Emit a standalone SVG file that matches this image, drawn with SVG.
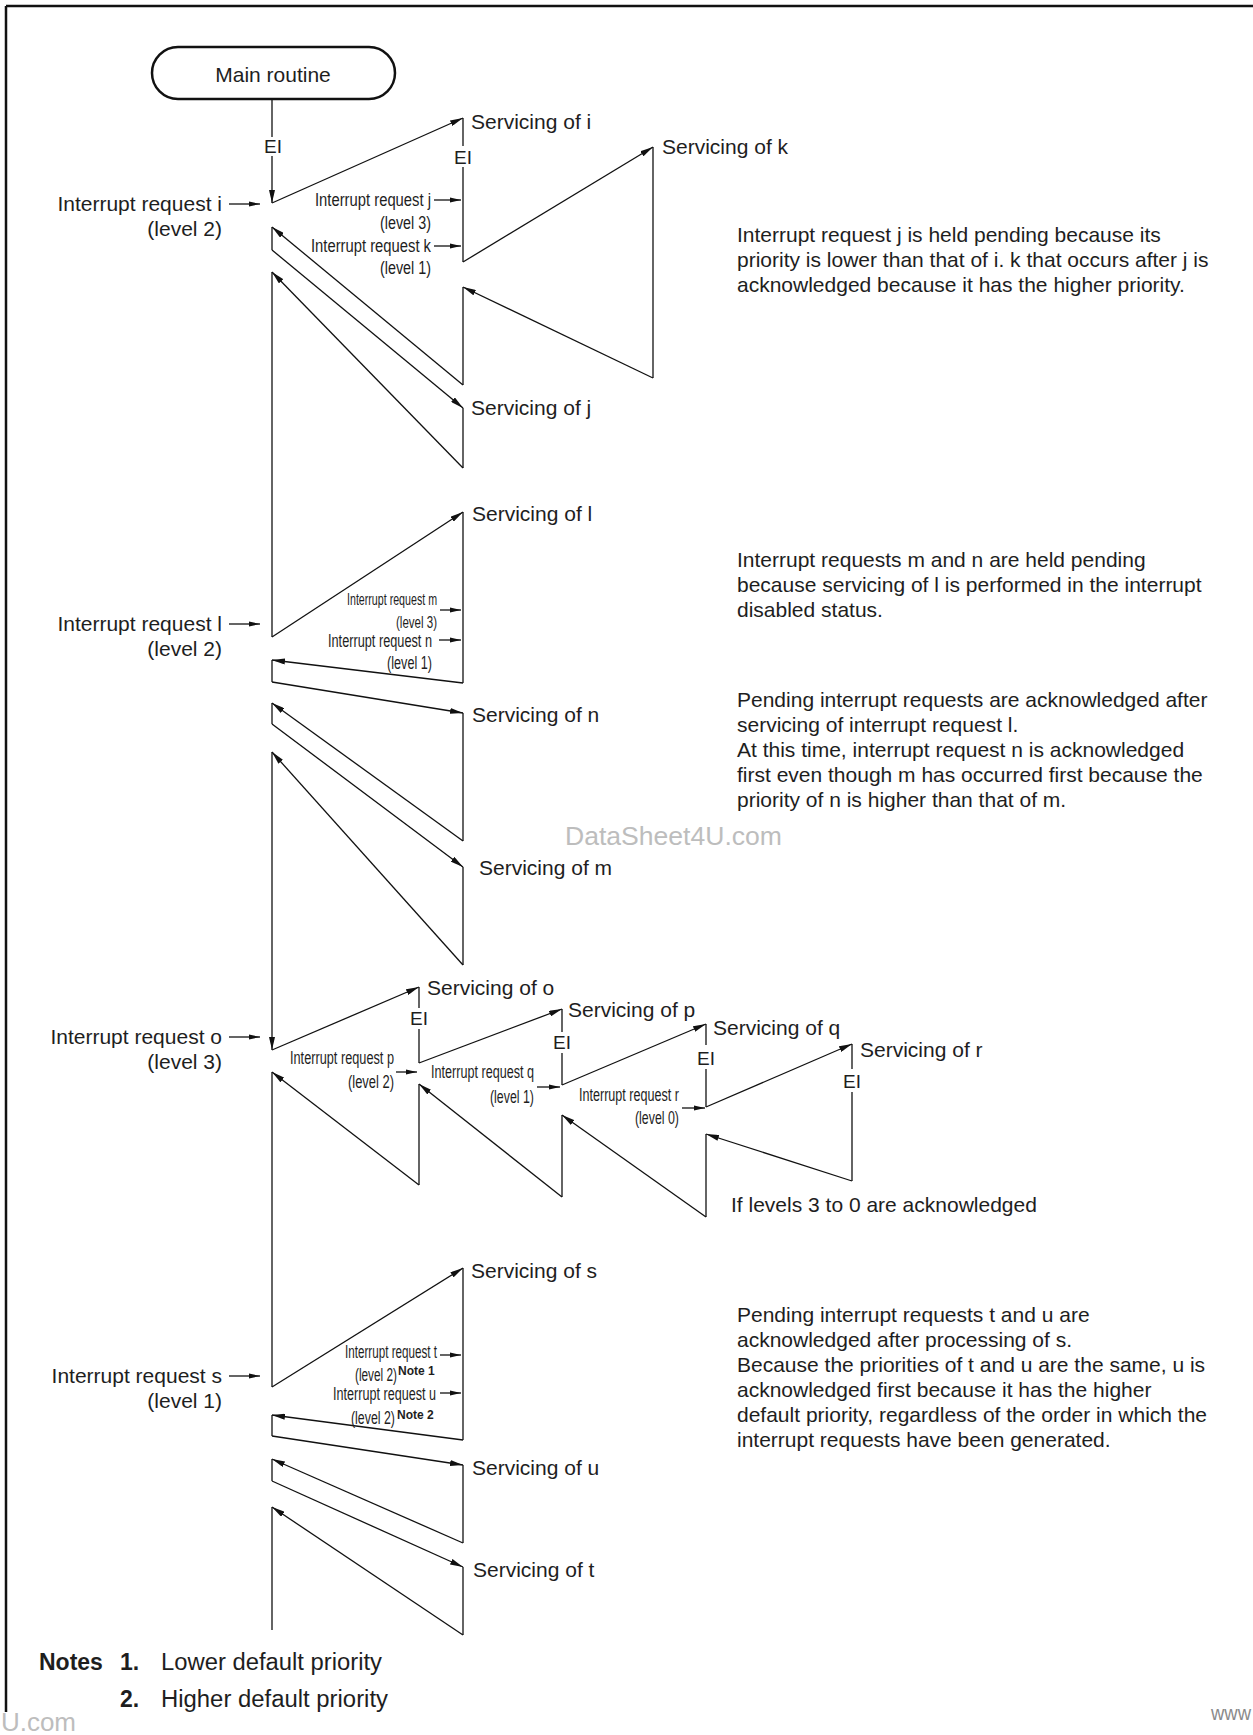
<svg xmlns="http://www.w3.org/2000/svg" width="1253" height="1735" viewBox="0 0 1253 1735">
<style>
text{font-family:"Liberation Sans",Arial,sans-serif;fill:#1e1e1e}
.t{font-size:21px}
.ei{font-size:19px;text-anchor:middle}
.rq{font-size:18px;text-anchor:end}
.rs{font-size:16px;text-anchor:end}
.nt{font-size:12px;font-weight:bold}
.bn{font-size:23px}
.b{font-weight:bold}
.end{text-anchor:end}
.wm{fill:#bdbdbd;font-size:26px}
#connectors line{stroke:#111;stroke-width:1.3;fill:none}
#connectors line.a{marker-end:url(#ah)}
#connectors line.h{marker-end:url(#ahs)}
.frame{stroke:#111;stroke-width:2.5;fill:none}
</style>
<defs>
<marker id="ah" markerUnits="userSpaceOnUse" markerWidth="14" markerHeight="6" refX="13" refY="3" orient="auto"><path d="M0,0 L13,3 L0,6 Z" fill="#111"/></marker>
<marker id="ahs" markerUnits="userSpaceOnUse" markerWidth="11" markerHeight="6" refX="11" refY="3" orient="auto"><path d="M0,0.5 L11,3 L0,5.5 Z" fill="#111"/></marker>
</defs>
<rect width="1253" height="1735" fill="#fff"/>
<g id="frame">
<line class="frame" x1="6" y1="6" x2="1253" y2="6"/>
<line class="frame" x1="6" y1="6" x2="6" y2="1712"/>
</g>
<g id="main-routine">
<rect x="152" y="47" width="243" height="52" rx="26" ry="26" fill="#fff" stroke="#111" stroke-width="2.5"/>
<text class="t" x="273" y="82" text-anchor="middle">Main routine</text>
</g>
<g id="connectors">
<line x1="272" y1="99" x2="272" y2="137"/>
<line class="a" x1="272" y1="156" x2="272" y2="203"/>
<line class="a" x1="272" y1="203" x2="463" y2="118"/>
<line x1="463" y1="118" x2="463" y2="146"/>
<line x1="463" y1="167" x2="463" y2="262"/>
<line class="a" x1="463" y1="262" x2="653" y2="147"/>
<line x1="653" y1="147" x2="653" y2="378"/>
<line class="a" x1="653" y1="378" x2="463" y2="287"/>
<line x1="463" y1="287" x2="463" y2="385"/>
<line class="a" x1="463" y1="385" x2="272" y2="227"/>
<line x1="272" y1="227" x2="272" y2="250"/>
<line class="a" x1="272" y1="250" x2="463" y2="408"/>
<line x1="463" y1="408" x2="463" y2="468"/>
<line class="a" x1="463" y1="468" x2="272" y2="272"/>
<line x1="272" y1="272" x2="272" y2="637"/>
<line class="a" x1="272" y1="637" x2="463" y2="512"/>
<line x1="463" y1="512" x2="463" y2="683"/>
<line class="a" x1="463" y1="683" x2="272" y2="660"/>
<line x1="272" y1="660" x2="272" y2="682"/>
<line class="a" x1="272" y1="682" x2="463" y2="713"/>
<line x1="463" y1="713" x2="463" y2="841"/>
<line class="a" x1="463" y1="841" x2="272" y2="703"/>
<line x1="272" y1="703" x2="272" y2="724"/>
<line class="a" x1="272" y1="724" x2="463" y2="867"/>
<line x1="463" y1="867" x2="463" y2="965"/>
<line class="a" x1="463" y1="965" x2="272" y2="752"/>
<line class="a" x1="272" y1="752" x2="272" y2="1050"/>
<line class="a" x1="272" y1="1050" x2="419" y2="987"/>
<line x1="419" y1="987" x2="419" y2="1008"/>
<line x1="419" y1="1029" x2="419" y2="1063"/>
<line class="a" x1="419" y1="1063" x2="562" y2="1009"/>
<line x1="562" y1="1009" x2="562" y2="1032"/>
<line x1="562" y1="1053" x2="562" y2="1085"/>
<line class="a" x1="562" y1="1085" x2="706" y2="1024"/>
<line x1="706" y1="1024" x2="706" y2="1045"/>
<line x1="706" y1="1069" x2="706" y2="1107"/>
<line class="a" x1="706" y1="1107" x2="852" y2="1044"/>
<line x1="852" y1="1044" x2="852" y2="1069"/>
<line x1="852" y1="1092" x2="852" y2="1181"/>
<line class="a" x1="852" y1="1181" x2="706" y2="1134"/>
<line x1="706" y1="1134" x2="706" y2="1217"/>
<line class="a" x1="706" y1="1217" x2="562" y2="1115"/>
<line x1="562" y1="1115" x2="562" y2="1197"/>
<line class="a" x1="562" y1="1197" x2="419" y2="1084"/>
<line x1="419" y1="1084" x2="419" y2="1185"/>
<line class="a" x1="419" y1="1185" x2="272" y2="1072"/>
<line x1="272" y1="1072" x2="272" y2="1387"/>
<line class="a" x1="272" y1="1387" x2="463" y2="1268"/>
<line x1="463" y1="1268" x2="463" y2="1440"/>
<line class="a" x1="463" y1="1440" x2="272" y2="1415"/>
<line x1="272" y1="1415" x2="272" y2="1436"/>
<line class="a" x1="272" y1="1436" x2="463" y2="1465"/>
<line x1="463" y1="1465" x2="463" y2="1543"/>
<line class="a" x1="463" y1="1543" x2="272" y2="1459"/>
<line x1="272" y1="1459" x2="272" y2="1481"/>
<line class="a" x1="272" y1="1481" x2="463" y2="1567"/>
<line x1="463" y1="1567" x2="463" y2="1635"/>
<line class="a" x1="463" y1="1635" x2="272" y2="1507"/>
<line x1="272" y1="1507" x2="272" y2="1630"/>
<line class="h" x1="229" y1="204" x2="260" y2="204"/>
<line class="h" x1="229" y1="624" x2="260" y2="624"/>
<line class="h" x1="229" y1="1037" x2="260" y2="1037"/>
<line class="h" x1="229" y1="1376" x2="260" y2="1376"/>
<line class="h" x1="434" y1="200" x2="461" y2="200"/>
<line class="h" x1="434" y1="246" x2="461" y2="246"/>
<line class="h" x1="440" y1="610" x2="461" y2="610"/>
<line class="h" x1="439" y1="640" x2="461" y2="640"/>
<line class="h" x1="396" y1="1072" x2="417" y2="1072"/>
<line class="h" x1="537" y1="1087" x2="560" y2="1087"/>
<line class="h" x1="682" y1="1108" x2="705" y2="1108"/>
<line class="h" x1="440" y1="1355" x2="461" y2="1355"/>
<line class="h" x1="440" y1="1393" x2="461" y2="1393"/>
</g>
<g id="ei-labels">
<text class="ei" x="273" y="153">EI</text>
<text class="ei" x="463" y="164">EI</text>
<text class="ei" x="419" y="1025">EI</text>
<text class="ei" x="562" y="1049">EI</text>
<text class="ei" x="706" y="1065">EI</text>
<text class="ei" x="852" y="1088">EI</text>
</g>
<g id="request-i"><text class="t end" x="222" y="211">Interrupt request i</text><text class="t end" x="222" y="236">(level 2)</text></g>
<g id="request-l"><text class="t end" x="222" y="631">Interrupt request l</text><text class="t end" x="222" y="656">(level 2)</text></g>
<g id="request-o"><text class="t end" x="222" y="1044">Interrupt request o</text><text class="t end" x="222" y="1069">(level 3)</text></g>
<g id="request-s"><text class="t end" x="222" y="1383">Interrupt request s</text><text class="t end" x="222" y="1408">(level 1)</text></g>
<g id="request-j"><text class="rq" x="431" y="206" textLength="116" lengthAdjust="spacingAndGlyphs">Interrupt request j</text><text class="rq" x="431" y="229" textLength="51" lengthAdjust="spacingAndGlyphs">(level 3)</text></g>
<g id="request-k"><text class="rq" x="431" y="252" textLength="120" lengthAdjust="spacingAndGlyphs">Interrupt request k</text><text class="rq" x="431" y="274" textLength="51" lengthAdjust="spacingAndGlyphs">(level 1)</text></g>
<g id="request-m"><text class="rs" x="437" y="605" textLength="90" lengthAdjust="spacingAndGlyphs">Interrupt request m</text><text class="rs" x="437" y="628" textLength="41" lengthAdjust="spacingAndGlyphs">(level 3)</text></g>
<g id="request-n"><text class="rs" x="432" y="647" style="font-size:17.5px" textLength="104" lengthAdjust="spacingAndGlyphs">Interrupt request n</text><text class="rs" x="432" y="669" style="font-size:17.5px" textLength="45" lengthAdjust="spacingAndGlyphs">(level 1)</text></g>
<g id="request-p"><text class="rq" x="394" y="1064" textLength="104" lengthAdjust="spacingAndGlyphs">Interrupt request p</text><text class="rq" x="394" y="1088" textLength="46" lengthAdjust="spacingAndGlyphs">(level 2)</text></g>
<g id="request-q"><text class="rq" x="534" y="1078" textLength="103" lengthAdjust="spacingAndGlyphs">Interrupt request q</text><text class="rq" x="534" y="1103" textLength="44" lengthAdjust="spacingAndGlyphs">(level 1)</text></g>
<g id="request-r"><text class="rq" x="679" y="1101" textLength="100" lengthAdjust="spacingAndGlyphs">Interrupt request r</text><text class="rq" x="679" y="1124" textLength="44" lengthAdjust="spacingAndGlyphs">(level 0)</text></g>
<g id="request-t"><text class="rq" x="437" y="1358" textLength="92" lengthAdjust="spacingAndGlyphs">Interrupt request t</text><text class="rq" x="397" y="1381" textLength="42" lengthAdjust="spacingAndGlyphs">(level 2)</text><text class="nt" x="398" y="1375">Note 1</text></g>
<g id="request-u"><text class="rq" x="436" y="1400" textLength="103" lengthAdjust="spacingAndGlyphs">Interrupt request u</text><text class="rq" x="395" y="1424" textLength="44" lengthAdjust="spacingAndGlyphs">(level 2)</text><text class="nt" x="397" y="1419">Note 2</text></g>
<g id="servicing-i"><text class="t" x="471" y="129">Servicing of i</text></g>
<g id="servicing-k"><text class="t" x="662" y="154">Servicing of k</text></g>
<g id="servicing-j"><text class="t" x="471" y="415">Servicing of j</text></g>
<g id="servicing-l"><text class="t" x="472" y="521">Servicing of l</text></g>
<g id="servicing-n"><text class="t" x="472" y="722">Servicing of n</text></g>
<g id="servicing-m"><text class="t" x="479" y="875">Servicing of m</text></g>
<g id="servicing-o"><text class="t" x="427" y="995">Servicing of o</text></g>
<g id="servicing-p"><text class="t" x="568" y="1017">Servicing of p</text></g>
<g id="servicing-q"><text class="t" x="713" y="1035">Servicing of q</text></g>
<g id="servicing-r"><text class="t" x="860" y="1057">Servicing of r</text></g>
<g id="servicing-s"><text class="t" x="471" y="1278">Servicing of s</text></g>
<g id="servicing-u"><text class="t" x="472" y="1475">Servicing of u</text></g>
<g id="servicing-t"><text class="t" x="473" y="1577">Servicing of t</text></g>
<g id="acknowledged-note"><text class="t" x="731" y="1212">If levels 3 to 0 are acknowledged</text></g>
<g id="explain-1">
<text class="t" x="737" y="242">Interrupt request j is held pending because its</text>
<text class="t" x="737" y="267">priority is lower than that of i. k that occurs after j is</text>
<text class="t" x="737" y="292">acknowledged because it has the higher priority.</text>
</g>
<g id="explain-2">
<text class="t" x="737" y="567">Interrupt requests m and n are held pending</text>
<text class="t" x="737" y="592">because servicing of l is performed in the interrupt</text>
<text class="t" x="737" y="617">disabled status.</text>
</g>
<g id="explain-3">
<text class="t" x="737" y="707">Pending interrupt requests are acknowledged after</text>
<text class="t" x="737" y="732">servicing of interrupt request l.</text>
<text class="t" x="737" y="757">At this time, interrupt request n is acknowledged</text>
<text class="t" x="737" y="782">first even though m has occurred first because the</text>
<text class="t" x="737" y="807">priority of n is higher than that of m.</text>
</g>
<g id="explain-4">
<text class="t" x="737" y="1322">Pending interrupt requests t and u are</text>
<text class="t" x="737" y="1347">acknowledged after processing of s.</text>
<text class="t" x="737" y="1372">Because the priorities of t and u are the same, u is</text>
<text class="t" x="737" y="1397">acknowledged first because it has the higher</text>
<text class="t" x="737" y="1422">default priority, regardless of the order in which the</text>
<text class="t" x="737" y="1447">interrupt requests have been generated.</text>
</g>
<g id="notes">
<text class="bn b" x="39" y="1670">Notes</text>
<text class="bn b" x="120" y="1670">1.</text>
<text class="bn" x="161" y="1670" textLength="221" lengthAdjust="spacingAndGlyphs">Lower default priority</text>
<text class="bn b" x="120" y="1707">2.</text>
<text class="bn" x="161" y="1707" textLength="227" lengthAdjust="spacingAndGlyphs">Higher default priority</text>
</g>
<g id="watermarks">
<text class="wm" x="565" y="845" textLength="217" lengthAdjust="spacingAndGlyphs">DataSheet4U.com</text>
<text class="wm" x="76" y="1731" text-anchor="end">U.com</text>
<text class="wm" x="1211" y="1720" style="fill:#8a8a8a;font-size:20px" textLength="40" lengthAdjust="spacingAndGlyphs">www</text>
</g>
</svg>
